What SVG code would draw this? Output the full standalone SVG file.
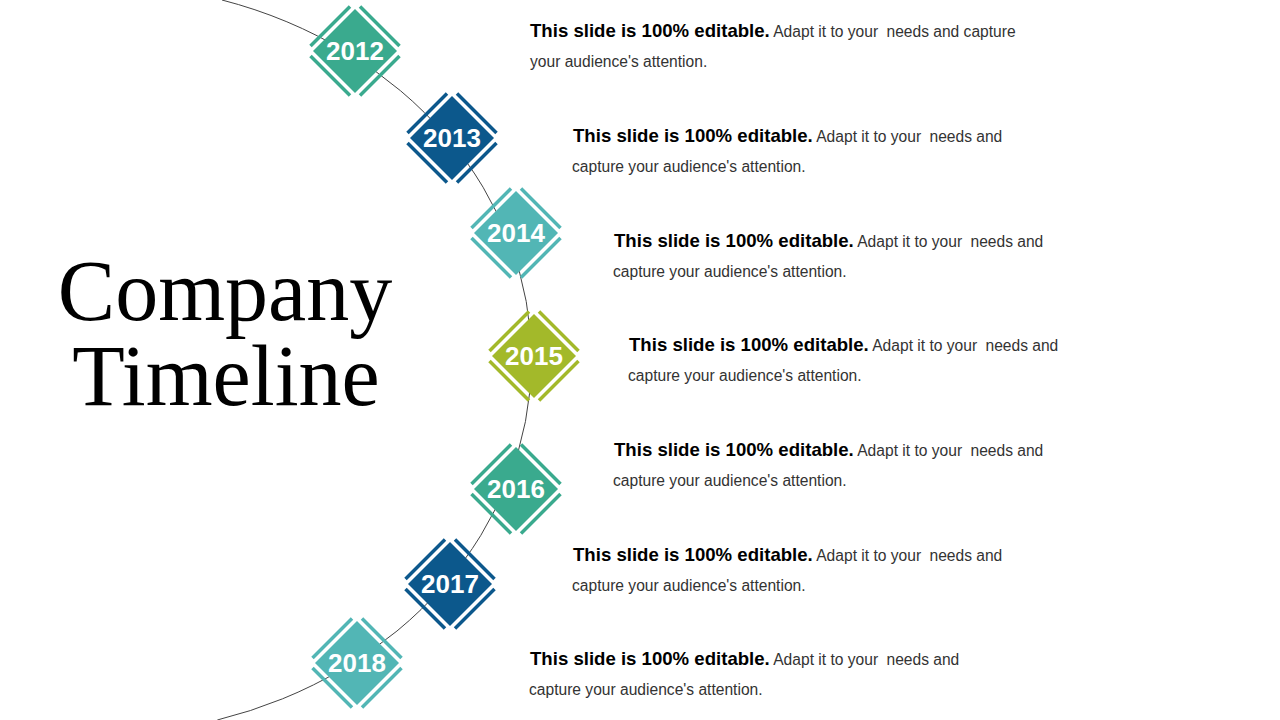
<svg xmlns="http://www.w3.org/2000/svg" width="1280" height="720" viewBox="0 0 1280 720">
<style>
.bg{fill:#ffffff}
.arc{fill:none;stroke:#444444;stroke-width:1}
.in{stroke:none}
.st{fill:none;stroke-width:3.5;stroke-linecap:butt}
.c1 .in{fill:#3aaa8e}.c1 .st{stroke:#3aaa8e}
.c2 .in{fill:#0c588c}.c2 .st{stroke:#0c588c}
.c3 .in{fill:#52b6b5}.c3 .st{stroke:#52b6b5}
.c4 .in{fill:#a3b92a}.c4 .st{stroke:#a3b92a}
.yr{font-family:"Liberation Sans",Arial,sans-serif;font-weight:bold;font-size:26px;fill:#ffffff;text-anchor:middle}
.title{font-family:"Liberation Serif","Times New Roman",serif;font-size:86px;fill:#000000;text-anchor:middle}
.body{font-family:"Liberation Sans",Arial,sans-serif;font-size:15.6px;fill:#333333}
.b{font-weight:bold;font-size:18.6px;fill:#000000}
</style>
<rect class="bg" x="0" y="0" width="1280" height="720"/>
<g id="connectors">
<path class="arc" d="M 222 0 A 433 375 0 0 1 217.3 720"/>
</g>
<g id="title">
<text class="title"><tspan x="225" y="320">Company</tspan><tspan x="226" y="405">Timeline</tspan></text>
</g>
<g id="n2012" class="c1" transform="translate(355,51)">
<polygon class="in" points="0,-42 42,0 0,42 -42,0"/>
<path class="st" d="M-44.5,-5 L-5,-44.5 M5,-44.5 L44.5,-5 M44.5,5 L5,44.5 M-5,44.5 L-44.5,5"/>
<text class="yr" x="0" y="9.3">2012</text>
</g>
<g id="n2013" class="c2" transform="translate(452,138)">
<polygon class="in" points="0,-42 42,0 0,42 -42,0"/>
<path class="st" d="M-44.5,-5 L-5,-44.5 M5,-44.5 L44.5,-5 M44.5,5 L5,44.5 M-5,44.5 L-44.5,5"/>
<text class="yr" x="0" y="9.3">2013</text>
</g>
<g id="n2014" class="c3" transform="translate(516,233)">
<polygon class="in" points="0,-42 42,0 0,42 -42,0"/>
<path class="st" d="M-44.5,-5 L-5,-44.5 M5,-44.5 L44.5,-5 M44.5,5 L5,44.5 M-5,44.5 L-44.5,5"/>
<text class="yr" x="0" y="9.3">2014</text>
</g>
<g id="n2015" class="c4" transform="translate(534,356)">
<polygon class="in" points="0,-42 42,0 0,42 -42,0"/>
<path class="st" d="M-44.5,-5 L-5,-44.5 M5,-44.5 L44.5,-5 M44.5,5 L5,44.5 M-5,44.5 L-44.5,5"/>
<text class="yr" x="0" y="9.3">2015</text>
</g>
<g id="n2016" class="c1" transform="translate(516,489)">
<polygon class="in" points="0,-42 42,0 0,42 -42,0"/>
<path class="st" d="M-44.5,-5 L-5,-44.5 M5,-44.5 L44.5,-5 M44.5,5 L5,44.5 M-5,44.5 L-44.5,5"/>
<text class="yr" x="0" y="9.3">2016</text>
</g>
<g id="n2017" class="c2" transform="translate(450,584)">
<polygon class="in" points="0,-42 42,0 0,42 -42,0"/>
<path class="st" d="M-44.5,-5 L-5,-44.5 M5,-44.5 L44.5,-5 M44.5,5 L5,44.5 M-5,44.5 L-44.5,5"/>
<text class="yr" x="0" y="9.3">2017</text>
</g>
<g id="n2018" class="c3" transform="translate(357,663)">
<polygon class="in" points="0,-42 42,0 0,42 -42,0"/>
<path class="st" d="M-44.5,-5 L-5,-44.5 M5,-44.5 L44.5,-5 M44.5,5 L5,44.5 M-5,44.5 L-44.5,5"/>
<text class="yr" x="0" y="9.3">2018</text>
</g>
<g id="t2012">
<text class="body" x="530" y="37"><tspan class="b">This slide is 100% editable.</tspan> Adapt it to your <tspan dx="4">needs and capture</tspan></text>
<text class="body" x="530" y="67">your audience's attention.</text>
</g>
<g id="t2013">
<text class="body" x="573" y="142"><tspan class="b">This slide is 100% editable.</tspan> Adapt it to your <tspan dx="4">needs and</tspan></text>
<text class="body" x="572" y="172">capture your audience's attention.</text>
</g>
<g id="t2014">
<text class="body" x="614" y="247"><tspan class="b">This slide is 100% editable.</tspan> Adapt it to your <tspan dx="4">needs and</tspan></text>
<text class="body" x="613" y="277">capture your audience's attention.</text>
</g>
<g id="t2015">
<text class="body" x="629" y="351"><tspan class="b">This slide is 100% editable.</tspan> Adapt it to your <tspan dx="4">needs and</tspan></text>
<text class="body" x="628" y="381">capture your audience's attention.</text>
</g>
<g id="t2016">
<text class="body" x="614" y="456"><tspan class="b">This slide is 100% editable.</tspan> Adapt it to your <tspan dx="4">needs and</tspan></text>
<text class="body" x="613" y="486">capture your audience's attention.</text>
</g>
<g id="t2017">
<text class="body" x="573" y="561"><tspan class="b">This slide is 100% editable.</tspan> Adapt it to your <tspan dx="4">needs and</tspan></text>
<text class="body" x="572" y="591">capture your audience's attention.</text>
</g>
<g id="t2018">
<text class="body" x="530" y="665"><tspan class="b">This slide is 100% editable.</tspan> Adapt it to your <tspan dx="4">needs and</tspan></text>
<text class="body" x="529" y="695">capture your audience's attention.</text>
</g>
</svg>
